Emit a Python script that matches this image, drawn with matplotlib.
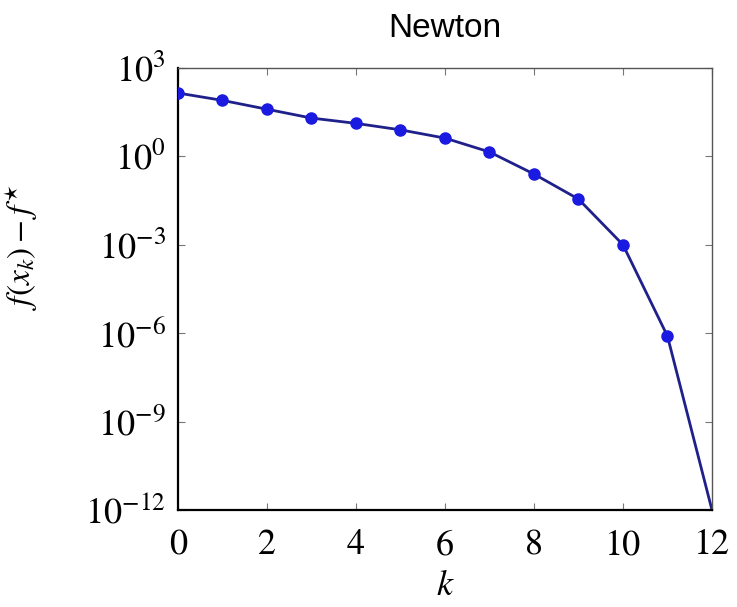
import numpy as np
import matplotlib
matplotlib.use("Agg")
import matplotlib.pyplot as plt
from matplotlib.ticker import LogLocator, NullLocator

# Datos (log10 del error por iteración)
k = [0, 1, 2, 3, 4, 5, 6, 7, 8, 9, 10, 11, 12]
log_err = [2.15, 1.9, 1.6, 1.3, 1.12, 0.9, 0.62, 0.15, -0.6, -1.45, -3.0, -6.1, -12.0]
err = [10 ** v for v in log_err]

plt.rcParams['mathtext.fontset'] = 'stix'
plt.rcParams['font.family'] = 'STIXGeneral'

fig = plt.figure(figsize=(7.37, 6.07), dpi=100)
ax = fig.add_axes([0.2415, 0.16, 0.7245, 0.728])

# línea continua hasta k=12, marcadores sólo hasta k=11
ax.plot(k, err, color='#20208a', lw=2.0, zorder=2)
ax.plot(k[:-1], err[:-1], 'o', color='#1a1ae0', ms=8, zorder=3)

ax.set_yscale('log')
ax.set_xlim(0, 12)
ax.set_ylim(1e-12, 1e3)
ax.set_xticks(range(0, 13, 2))
ax.yaxis.set_major_locator(LogLocator(base=1000.0))
ax.yaxis.set_minor_locator(NullLocator())
ax.tick_params(direction='in', top=True, right=True, length=5, width=0.8,
               labelsize=26, color='#777777')
ax.tick_params(axis='x', pad=14)
ax.tick_params(axis='y', pad=9)
for s in ['left', 'bottom']:
    ax.spines[s].set_linewidth(1.6)
for s in ['top', 'right']:
    ax.spines[s].set_linewidth(1.0)
    ax.spines[s].set_color('#555555')

ax.set_xlabel('$k$', fontsize=26, labelpad=5)
ax.set_ylabel(r'$f(x_k) - f^{\star}$', fontsize=24)
ax.yaxis.set_label_coords(-0.26, 0.595)
ax.set_title('Newton', fontsize=24, family='Liberation Sans', pad=22)

fig.savefig('out.png', dpi=100)
